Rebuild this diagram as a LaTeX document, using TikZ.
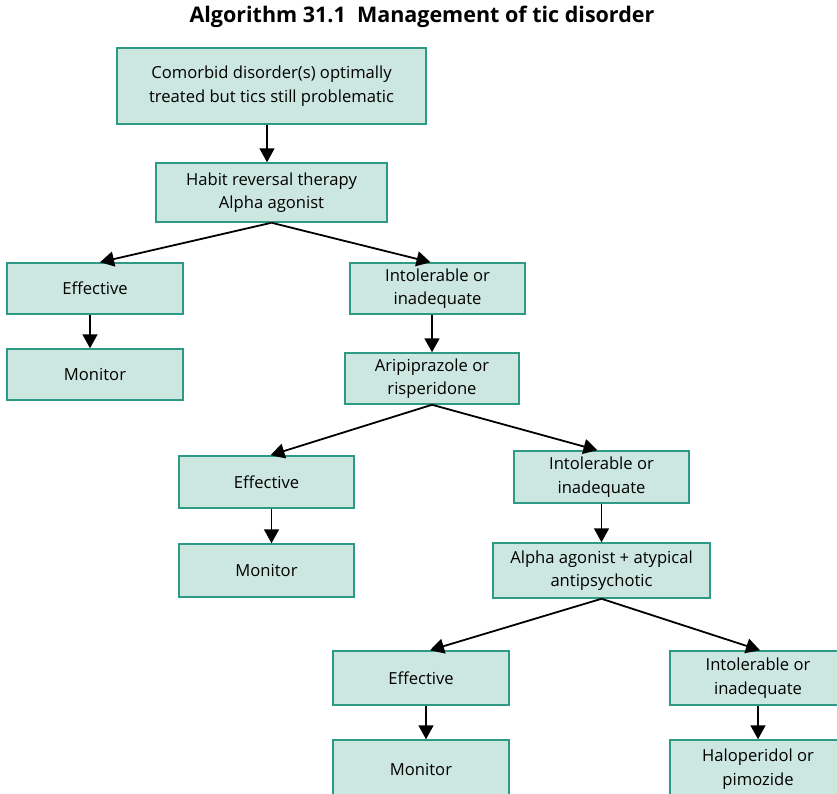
\documentclass[tikz,border=0pt]{standalone}
\usepackage{fontspec}
\setmainfont{Open Sans}
\usetikzlibrary{arrows.meta}
\definecolor{boxfill}{HTML}{CCE6E0}
\definecolor{boxline}{HTML}{2E9A86}
\begin{document}
\begin{tikzpicture}[x=1pt,y=-1pt,
  box/.style={draw=boxline, fill=boxfill, line width=1.5pt, align=center,
    inner sep=0pt, font=\fontsize{16.6}{23.5}\selectfont},
  flow/.style={draw=black, line width=1.8pt,
    -{Triangle[length=14pt,width=15pt]}}]
\useasboundingbox (0,0) rectangle (837,793);
\node[font=\fontsize{21.5}{24}\bfseries] (title) at (422,17) {Algorithm 31.1\ \ Management of tic disorder};

\node[box, minimum width=309pt, minimum height=76pt] (start) at (271.5,86)
  {Comorbid disorder(s) optimally\\treated but tics still problematic};
\node[box, minimum width=231pt, minimum height=59pt] (habit) at (271.5,192.5)
  {Habit reversal therapy\\Alpha agonist};

\node[box, minimum width=176pt, minimum height=51pt] (eff1) at (95,288.5) {Effective};
\node[box, minimum width=176pt, minimum height=51pt] (mon1) at (95,374.5) {Monitor};
\node[box, minimum width=175pt, minimum height=51pt] (int1) at (437.5,288.5) {Intolerable or\\inadequate};
\node[box, minimum width=174pt, minimum height=51pt] (arip) at (432,378.5) {Aripiprazole or\\risperidone};

\node[box, minimum width=175pt, minimum height=52pt] (eff2) at (266.5,482) {Effective};
\node[box, minimum width=175pt, minimum height=53pt] (mon2) at (266.5,570.5) {Monitor};
\node[box, minimum width=175pt, minimum height=52pt] (int2) at (601.5,477) {Intolerable or\\inadequate};
\node[box, minimum width=217pt, minimum height=55pt] (combo) at (601.5,570.5) {Alpha agonist + atypical\\antipsychotic};

\node[box, minimum width=176pt, minimum height=54pt] (eff3) at (421,678) {Effective};
\node[box, minimum width=176pt, minimum height=58pt] (mon3) at (421,769) {Monitor};
\node[box, minimum width=176pt, minimum height=54pt] (int3) at (758,678) {Intolerable or\\inadequate};
\node[box, minimum width=176pt, minimum height=58pt] (halo) at (758,769) {Haloperidol or\\pimozide};

\draw[flow] ([xshift=-4.5pt]start.south) -- ([xshift=-4.5pt]habit.north);
\draw[flow] (habit.south) -- ([xshift=5pt]eff1.north);
\draw[flow] (habit.south) -- ([xshift=-7pt]int1.north);
\draw[flow] ([xshift=-5pt]eff1.south) -- ([xshift=-5pt]mon1.north);
\draw[flow] ([xshift=-5.5pt]int1.south) -- (arip.north);
\draw[flow] (arip.south) -- ([xshift=4pt]eff2.north);
\draw[flow] (arip.south) -- ([xshift=-4pt]int2.north);
\draw[flow] ([xshift=5pt]eff2.south) -- ([xshift=5pt]mon2.north);
\draw[flow] (int2.south) -- (combo.north);
\draw[flow] (combo.south) -- ([xshift=9pt]eff3.north);
\draw[flow] (combo.south) -- ([xshift=2pt]int3.north);
\draw[flow] ([xshift=5pt]eff3.south) -- ([xshift=5pt]mon3.north);
\draw[flow] (int3.south) -- (halo.north);
\end{tikzpicture}
\end{document}
